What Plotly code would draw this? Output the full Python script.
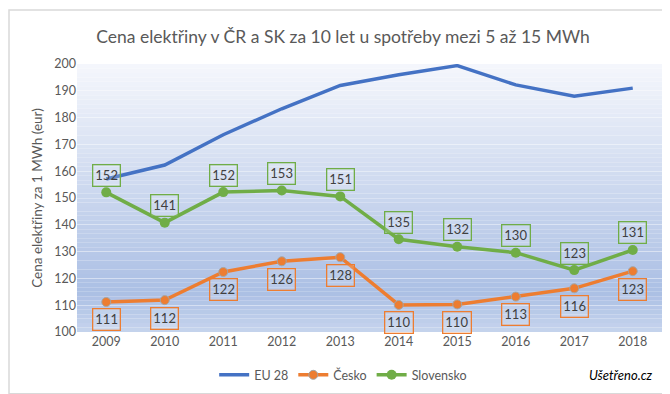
import plotly.graph_objects as go

years = ["2009", "2010", "2011", "2012", "2013", "2014", "2015", "2016", "2017", "2018"]
eu28 = [157.1, 162.3, 173.6, 183.3, 192.0, 196.0, 199.4, 192.2, 188.0, 191.0]
cesko = [111.2, 111.9, 122.4, 126.4, 127.9, 110.1, 110.3, 113.2, 116.3, 122.7]
slovensko = [152.1, 140.8, 152.2, 152.8, 150.6, 134.6, 131.8, 129.6, 123.1, 130.6]
cesko_labels = ["111", "112", "122", "126", "128", "110", "110", "113", "116", "123"]
slovensko_labels = ["152", "141", "152", "153", "151", "135", "132", "130", "123", "131"]

W, H = 670, 394
ML, MR, MT, MB = 69, 16, 56, 65
PW, PH = W - ML - MR, H - MT - MB

FONT = "Lato, Open Sans, sans-serif"
GRAY = "#595959"
BLUE = "#4472c4"
ORANGE = "#ed7d31"
GREEN = "#70ad47"

fig = go.Figure()
fig.add_trace(go.Scatter(x=years, y=eu28, name="EU 28", mode="lines",
                         line=dict(color=BLUE, width=3.5)))
fig.add_trace(go.Scatter(x=years, y=cesko, name="Česko", mode="lines+markers",
                         line=dict(color=ORANGE, width=3.5),
                         marker=dict(color=ORANGE, size=9, line=dict(color="#a5a5a5", width=1))))
fig.add_trace(go.Scatter(x=years, y=slovensko, name="Slovensko", mode="lines+markers",
                         line=dict(color=GREEN, width=3.5),
                         marker=dict(color=GREEN, size=10)))

# gradient background of plot area
def lerp(c1, c2, t):
    return tuple(round(a + (b - a) * t) for a, b in zip(c1, c2))

top = (0xf5, 0xf7, 0xfc)
mid = (0xab, 0xbf, 0xe4)
bot = (0xc6, 0xd4, 0xed)
N = 60
shapes = []
for i in range(N):
    y0 = 1 - i / N
    y1 = 1 - (i + 1) / N
    t = (i + 0.5) / N
    if t < 0.85:
        c = lerp(top, mid, t / 0.85)
    else:
        c = lerp(mid, bot, (t - 0.85) / 0.15)
    shapes.append(dict(type="rect", xref="paper", yref="paper", x0=0, x1=1, y0=y1, y1=y0,
                       fillcolor="rgb(%d,%d,%d)" % c, line=dict(width=0), layer="below"))

# outer chart border
shapes.append(dict(type="rect", xref="paper", yref="paper",
                   x0=(1 - ML) / PW, x1=(667 - ML) / PW,
                   y0=-(392 - MT - PH) / PH, y1=1 + (MT - 1) / PH,
                   line=dict(color="#d9d9d9", width=1.5), fillcolor="rgba(0,0,0,0)", layer="below"))

annotations = []
for i, (y, t) in enumerate(zip(slovensko, slovensko_labels)):
    annotations.append(dict(x=i, y=y, xref="x", yref="y", text=t, showarrow=False, yshift=17,
                            font=dict(family=FONT, size=13, color="#404040"),
                            bordercolor=GREEN, borderwidth=1.3, borderpad=2,
                            bgcolor="rgba(255,255,255,0.15)"))
for i, (y, t) in enumerate(zip(cesko, cesko_labels)):
    annotations.append(dict(x=i, y=y, xref="x", yref="y", text=t, showarrow=False, yshift=-18,
                            font=dict(family=FONT, size=13, color="#404040"),
                            bordercolor=ORANGE, borderwidth=1.3, borderpad=2,
                            bgcolor="rgba(255,255,255,0.15)"))
annotations.append(dict(xref="paper", yref="paper", x=(647 - ML) / PW, y=-(373 - MT - PH) / PH,
                        xanchor="right", yanchor="middle", text="<i>Ušetřeno.cz</i>",
                        showarrow=False, font=dict(family=FONT, size=13, color="#000000")))

fig.update_layout(
    width=W, height=H,
    margin=dict(l=ML, r=MR, t=MT, b=MB),
    paper_bgcolor="white", plot_bgcolor="rgba(0,0,0,0)",
    title=dict(text="Cena elektřiny v ČR a SK za 10 let u spotřeby mezi 5 až 15 MWh",
               x=335 / W, xanchor="center", y=1 - 29 / H, yanchor="middle",
               font=dict(family=FONT, size=17.5, color=GRAY)),
    xaxis=dict(type="category", range=[-0.5, 9.5], showgrid=False, zeroline=False,
               showline=False, ticks="", automargin=False,
               tickfont=dict(family=FONT, size=12.5, color=GRAY)),
    yaxis=dict(range=[100, 200], dtick=10, showgrid=True, gridcolor="rgba(255,255,255,0.3)",
               gridwidth=1, zeroline=False, showline=False, ticks="", automargin=False,
               tickfont=dict(family=FONT, size=12.5, color=GRAY),
               title=dict(text="Cena elektřiny za 1 MWh (eur)",
                          font=dict(family=FONT, size=13.5, color=GRAY), standoff=8)),
    legend=dict(orientation="h", x=0.455, xanchor="center", y=-(373 - MT - PH) / PH,
                yanchor="middle", font=dict(family=FONT, size=12.5, color=GRAY),
                bgcolor="rgba(0,0,0,0)", itemwidth=30),
    shapes=shapes,
    annotations=annotations,
)

fig.write_html("out.html")
